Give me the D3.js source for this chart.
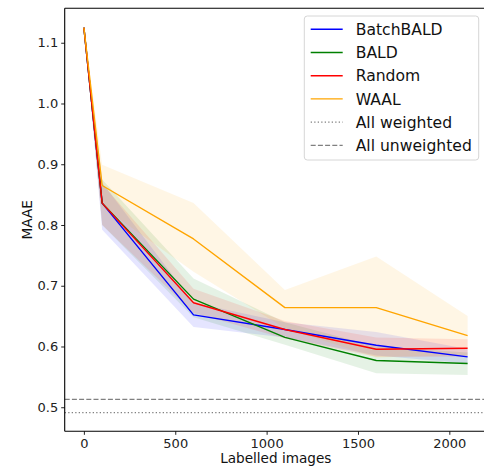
<!DOCTYPE html>
<html><head><meta charset="utf-8">
<script src="https://cdn.jsdelivr.net/npm/d3@7"></script>
<style>body{margin:0;background:#fff}svg{display:block}text{font-family:"DejaVu Sans",sans-serif}</style>
</head><body><svg id="c" width="484" height="469"></svg>
<script>
const xs = [0, 100, 600, 1100, 1600, 2100];
const seriesNames = ["BatchBALD", "BALD", "Random", "WAAL"];
const seriesColors = ["blue", "green", "red", "orange"];
const batchbaldMean = [1.125, 0.836, 0.652, 0.628, 0.602, 0.583];
const batchbaldLow  = [1.125, 0.792, 0.632, 0.615, 0.585, 0.572];
const batchbaldHigh = [1.125, 0.870, 0.672, 0.640, 0.624, 0.596];
const baldMean = [1.125, 0.836, 0.678, 0.615, 0.577, 0.572];
const baldLow  = [1.125, 0.800, 0.648, 0.603, 0.556, 0.553];
const baldHigh = [1.125, 0.875, 0.712, 0.640, 0.600, 0.590];
const randomMean = [1.125, 0.836, 0.672, 0.628, 0.5955, 0.597];
const randomLow  = [1.125, 0.800, 0.655, 0.613, 0.583, 0.583];
const randomHigh = [1.125, 0.868, 0.695, 0.642, 0.615, 0.612];
const waalMean = [1.125, 0.865, 0.777, 0.664, 0.664, 0.618];
const waalLow  = [1.125, 0.830, 0.723, 0.630, 0.582, 0.586];
const waalHigh = [1.125, 0.899, 0.836, 0.693, 0.748, 0.650];
const allWeighted = 0.491;
const allUnweighted = 0.513;
const xTicks = [0, 500, 1000, 1500, 2000];
const yTicks = [0.5, 0.6, 0.7, 0.8, 0.9, 1.0, 1.1];
const legendLabels = ["BatchBALD", "BALD", "Random", "WAAL", "All weighted", "All unweighted"];

const means = [batchbaldMean, baldMean, randomMean, waalMean];
const lows = [batchbaldLow, baldLow, randomLow, waalLow];
const highs = [batchbaldHigh, baldHigh, randomHigh, waalHigh];

const L = 64.7, R = 486.8, T = 8.3, B = 431.3;
const svg = d3.select("#c");
const x = d3.scaleLinear().domain([-105, 2205]).range([L, R]);
const y = d3.scaleLinear().domain([0.4604, 1.1567]).range([B, T]);

const g = svg.append("g");
// hlines
g.append("line").attr("x1", L).attr("x2", R).attr("y1", y(allWeighted)).attr("y2", y(allWeighted))
  .attr("stroke", "gray").attr("stroke-width", 1.3).attr("stroke-dasharray", "1.3,2.2");
g.append("line").attr("x1", L).attr("x2", R).attr("y1", y(allUnweighted)).attr("y2", y(allUnweighted))
  .attr("stroke", "gray").attr("stroke-width", 1.3).attr("stroke-dasharray", "5,2.2");

const area = d3.area().x((d, i) => x(xs[i])).y0(d => y(d[0])).y1(d => y(d[1]));
const line = d3.line().x((d, i) => x(xs[i])).y(d => y(d));
seriesNames.forEach((n, k) => {
  const band = xs.map((_, i) => [lows[k][i], highs[k][i]]);
  g.append("path").attr("d", area(band)).attr("fill", seriesColors[k]).attr("fill-opacity", 0.1);
});
seriesNames.forEach((n, k) => {
  g.append("path").attr("d", line(means[k])).attr("fill", "none")
    .attr("stroke", seriesColors[k]).attr("stroke-width", 1.4).attr("stroke-linejoin", "round");
});

// axes
const xAxis = d3.axisBottom(x).tickValues(xTicks).tickFormat(d3.format("d")).tickSize(3.5).tickPadding(4);
const yAxis = d3.axisLeft(y).tickValues(yTicks).tickFormat(d3.format(".1f")).tickSize(3.5).tickPadding(3);
const gx = svg.append("g").attr("transform", `translate(0,${B})`).call(xAxis);
const gy = svg.append("g").attr("transform", `translate(${L},0)`).call(yAxis);
[gx, gy].forEach(a => {
  a.select(".domain").remove();
  a.selectAll("text").attr("font-size", 13).attr("fill", "#222").attr("font-family", "DejaVu Sans");
  a.selectAll("line").attr("stroke", "#222");
});
// spines
svg.append("line").attr("x1", L).attr("x2", L).attr("y1", T).attr("y2", B).attr("stroke", "#000").attr("stroke-width", 1.1);
svg.append("line").attr("x1", L).attr("x2", R).attr("y1", B).attr("y2", B).attr("stroke", "#000").attr("stroke-width", 1.1);
svg.append("line").attr("x1", L).attr("x2", R).attr("y1", T).attr("y2", T).attr("stroke", "#000").attr("stroke-width", 1.1);

svg.append("text").attr("x", (L + R) / 2).attr("y", 463).attr("text-anchor", "middle")
  .attr("font-size", 13.6).attr("fill", "#111").text("Labelled images");
svg.append("text").attr("transform", `translate(32,${(T + B) / 2}) rotate(-90)`).attr("text-anchor", "middle")
  .attr("font-size", 13.6).attr("fill", "#111").text("MAAE");

// legend
const lg = svg.append("g");
lg.append("rect").attr("x", 304.3).attr("y", 16).attr("width", 174.4).attr("height", 144).attr("rx", 3)
  .attr("fill", "white").attr("fill-opacity", 0.8).attr("stroke", "#d6d6d6").attr("stroke-width", 1);
const legColors = ["blue", "green", "red", "orange", "gray", "gray"];
const legDash = [null, null, null, null, "1.3,2.2", "5,2.2"];
legendLabels.forEach((t, i) => {
  const yy = 29.3 + i * 23.2;
  const ln = lg.append("line").attr("x1", 310.7).attr("x2", 342.7).attr("y1", yy).attr("y2", yy)
    .attr("stroke", legColors[i]).attr("stroke-width", legDash[i] ? 1.3 : 1.4);
  if (legDash[i]) ln.attr("stroke-dasharray", legDash[i]);
  lg.append("text").attr("x", 355.7).attr("y", yy).attr("dy", "0.36em").attr("font-size", 15.6)
    .attr("fill", "#111").text(t);
});
</script></body></html>
